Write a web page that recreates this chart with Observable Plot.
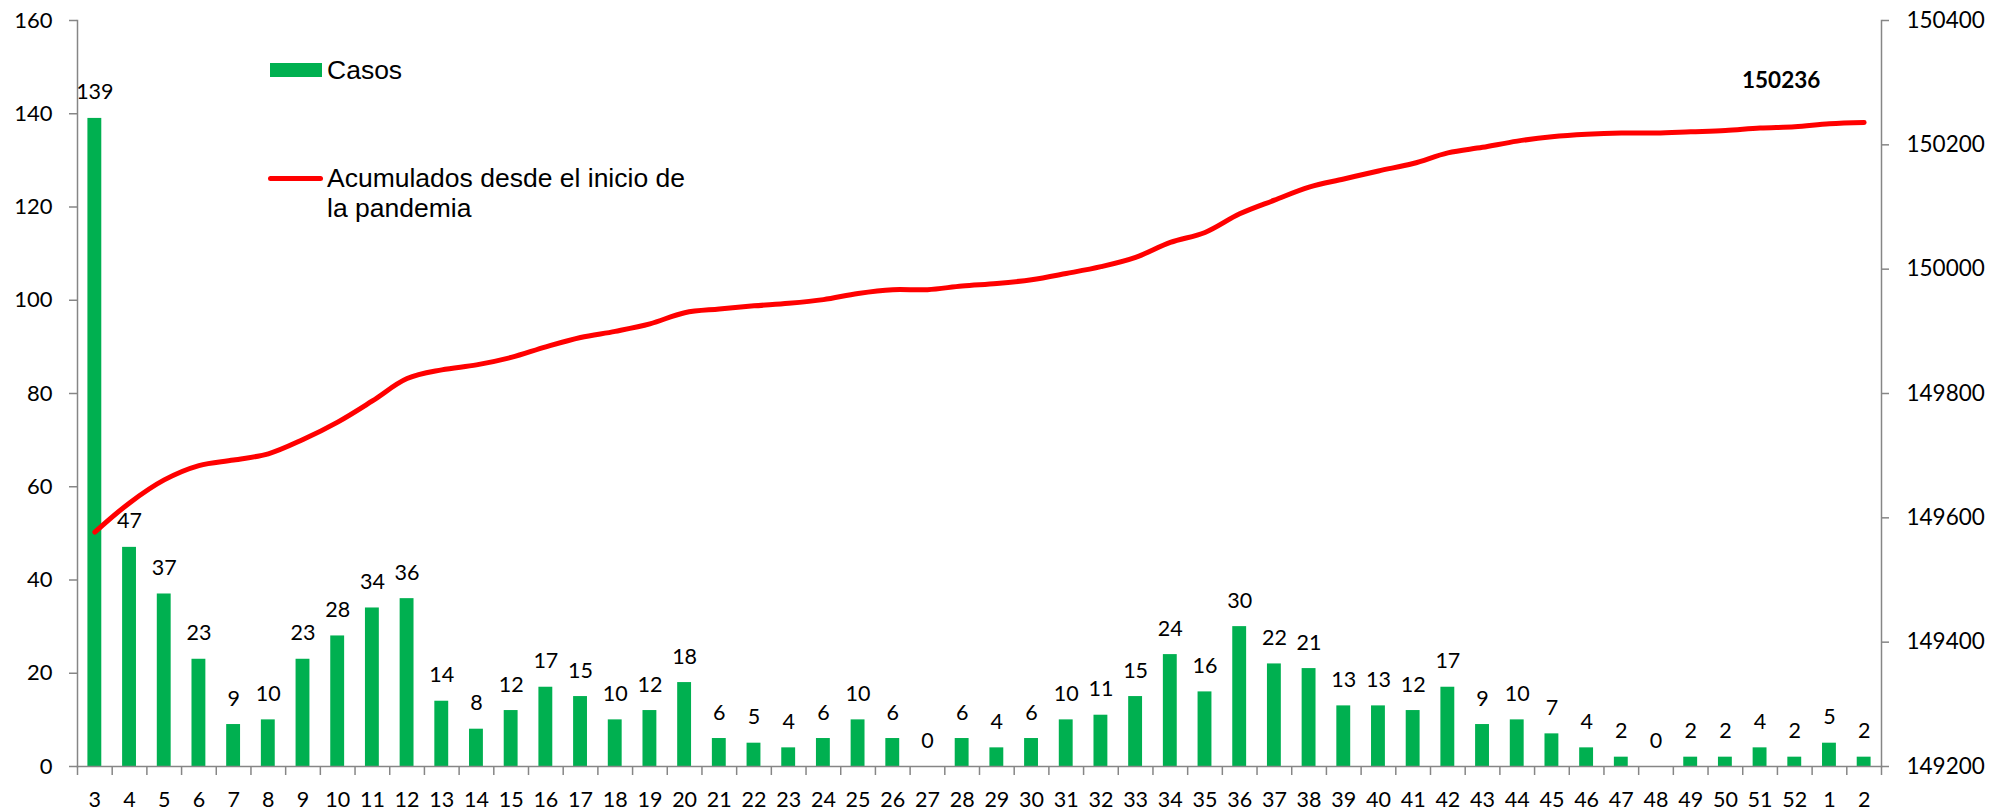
<!DOCTYPE html>
<html><head><meta charset="utf-8">
<script src="https://cdn.jsdelivr.net/npm/d3@7"></script>
<script src="https://cdn.jsdelivr.net/npm/@observablehq/plot@0.6"></script>
<style>
body{margin:0;background:#fff;}
#wrap{position:relative;width:1991px;height:812px;overflow:hidden;}
.leg{position:absolute;font-family:"Liberation Sans",Arial,sans-serif;font-size:26.5px;color:#000;white-space:nowrap;}
</style></head><body>
<div id="wrap"></div>
<script>
const weeks = ["3","4","5","6","7","8","9","10","11","12","13","14","15","16","17","18","19","20","21","22","23","24","25","26","27","28","29","30","31","32","33","34","35","36","37","38","39","40","41","42","43","44","45","46","47","48","49","50","51","52","1","2"];
const casos = [139,47,37,23,9,10,23,28,34,36,14,8,12,17,15,10,12,18,6,5,4,6,10,6,0,6,4,6,10,11,15,24,16,30,22,21,13,13,12,17,9,10,7,4,2,0,2,2,4,2,5,2];
const acumulados = [149577,149624,149661,149684,149693,149703,149726,149754,149788,149824,149838,149846,149858,149875,149890,149900,149912,149930,149936,149941,149945,149951,149961,149967,149967,149973,149977,149983,149993,150004,150019,150043,150059,150089,150111,150132,150145,150158,150170,150187,150196,150206,150213,150217,150219,150219,150221,150223,150227,150229,150234,150236];
const leftTicks = [0,20,40,60,80,100,120,140,160];
const rightTicks = [149200,149400,149600,149800,150000,150200,150400];
const lastLabel = "150236";
const legendCasos = "Casos";
const legendAcum = ["Acumulados desde el inicio de","la pandemia"];

const W = 1991, H = 812, mL = 77, mR = 110, mT = 20, mB = 46;
const leftMax = 160, rMin = 149200, rMax = 150400;
const toLeft = v => (v - rMin) / (rMax - rMin) * leftMax;
const fromLeft = v => Math.round(v / leftMax * (rMax - rMin) + rMin);
const step = (W - mL - mR) / weeks.length;
const gray = "#868686";

const data = weeks.map((w, i) => ({week: w, casos: casos[i], acum: acumulados[i]}));
const last = data[data.length - 1];

const chart = Plot.plot({
  width: W, height: H,
  marginLeft: mL, marginRight: mR, marginTop: mT, marginBottom: mB,
  style: {fontFamily: "Lato, sans-serif", background: "#fff", color: "#000", overflow: "visible"},
  x: {domain: weeks, paddingInner: 0.6, paddingOuter: 0.3},
  y: {domain: [0, leftMax]},
  marks: [
    Plot.barY(data, {x: "week", y: "casos", fill: "#00b050"}),
    Plot.text(data, {x: "week", y: "casos", text: d => String(d.casos), dy: -19, lineAnchor: "bottom", fontSize: 21.5, fill: "#000"}),
    Plot.line(data, {x: "week", y: d => toLeft(d.acum), stroke: "#ff0000", strokeWidth: 5, curve: "catmull-rom", strokeLinecap: "round"}),
    Plot.text([last], {x: "week", y: d => toLeft(d.acum), text: () => lastLabel, dx: -83, dy: -34, lineAnchor: "bottom", fontWeight: "bold", fontSize: 22.5, fill: "#000"}),
    Plot.frame({anchor: "left", stroke: gray, strokeWidth: 1.5}),
    Plot.frame({anchor: "right", stroke: gray, strokeWidth: 1.5}),
    Plot.frame({anchor: "bottom", stroke: gray, strokeWidth: 1.5}),
    Plot.ruleX(weeks, {x: d => d, y1: 0, y2: 0, insetBottom: -9, dx: -step / 2, stroke: gray, strokeWidth: 1.5}),
    Plot.ruleX([weeks[weeks.length - 1]], {x: d => d, y1: 0, y2: 0, insetBottom: -9, dx: step / 2, stroke: gray, strokeWidth: 1.5}),
    Plot.axisY({anchor: "left", ticks: leftTicks, tickSize: 8, tickPadding: 17, fontSize: 22, stroke: gray, strokeWidth: 1.5, label: null}),
    Plot.axisY({anchor: "right", ticks: rightTicks.map(toLeft), tickFormat: d => String(fromLeft(d)), tickSize: 7, tickPadding: 18, fontSize: 22.5, stroke: gray, strokeWidth: 1.5, label: null}),
    Plot.axisX({anchor: "bottom", tickSize: 0, tickPadding: 25, fontSize: 21.5, label: null})
  ]
});

const wrap = document.getElementById("wrap");
wrap.appendChild(chart);

function addDiv(style, text) {
  const d = document.createElement("div");
  d.className = "leg";
  Object.assign(d.style, style);
  if (text != null) d.textContent = text;
  wrap.appendChild(d);
  return d;
}
addDiv({left: "270px", top: "63px", width: "52px", height: "14px", background: "#00b050"});
addDiv({left: "327px", top: "55px", lineHeight: "30px"}, legendCasos);
addDiv({left: "268px", top: "176px", width: "55px", height: "5px", background: "#ff0000", borderRadius: "3px"});
const acumDiv = addDiv({left: "327px", top: "163px", lineHeight: "30px"});
acumDiv.innerHTML = legendAcum.join("<br>");
</script>
</body></html>
